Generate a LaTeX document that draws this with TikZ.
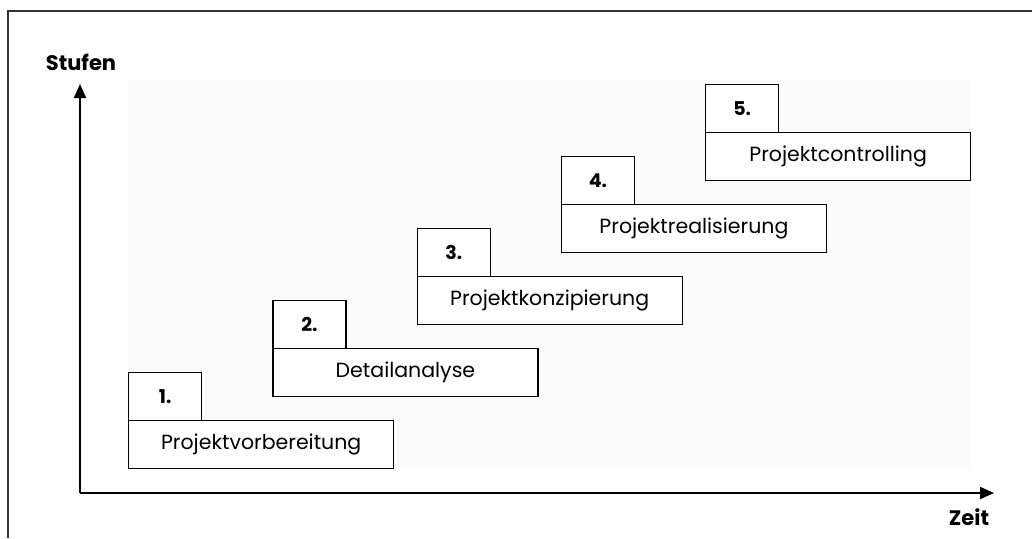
\documentclass[tikz,border=0pt]{standalone}
\usepackage{fontspec}
\setmainfont{Poppins}
\usetikzlibrary{arrows.meta}
\begin{document}
\begin{tikzpicture}[x=1pt,y=-1pt,
  numbox/.style={draw,line width=1.4pt,fill=white,minimum width=73pt,minimum height=48pt,
    inner sep=0pt,anchor=north west,font=\bfseries\fontsize{19}{22}\selectfont},
  phasebox/.style={draw,line width=1.4pt,fill=white,minimum width=265pt,minimum height=48pt,
    inner sep=0pt,anchor=north west,font=\fontsize{20.5}{24}\selectfont},
  axislabel/.style={font=\bfseries\fontsize{21}{24}\selectfont},
  axis/.style={line width=2pt,-{Triangle[length=14pt,width=12pt]}}]
  \useasboundingbox (0,0) rectangle (1032,538);
  % frame lines
  \draw[line width=2pt,black!80] (8,538) -- (8,11) -- (1032,11);
  % faint background panel
  \fill[black!1.5] (128,80) rectangle (971,470);
  % axes
  \coordinate (origin) at (80,493);
  \coordinate (ytip) at (80,84);
  \coordinate (xtip) at (994,493);
  \draw[axis] (origin) -- (ytip);
  \draw[axis] (origin) -- (xtip);
  \node[axislabel] (stufen) at (81,62) {Stufen};
  \node[axislabel] (zeit) at (969,517) {Zeit};
  % project phases
  \foreach \i/\t in {1/Projektvorbereitung,2/Detailanalyse,3/Projektkonzipierung,
                     4/Projektrealisierung,5/Projektcontrolling}{
    \pgfmathsetmacro{\bx}{128+144.25*(\i-1)}
    \pgfmathsetmacro{\by}{372-72*(\i-1)}
    \node[numbox] (n\i) at (\bx,\by) {\i.};
    \node[phasebox] (p\i) at (\bx,\by+48) {\t};
  }
\end{tikzpicture}
\end{document}
